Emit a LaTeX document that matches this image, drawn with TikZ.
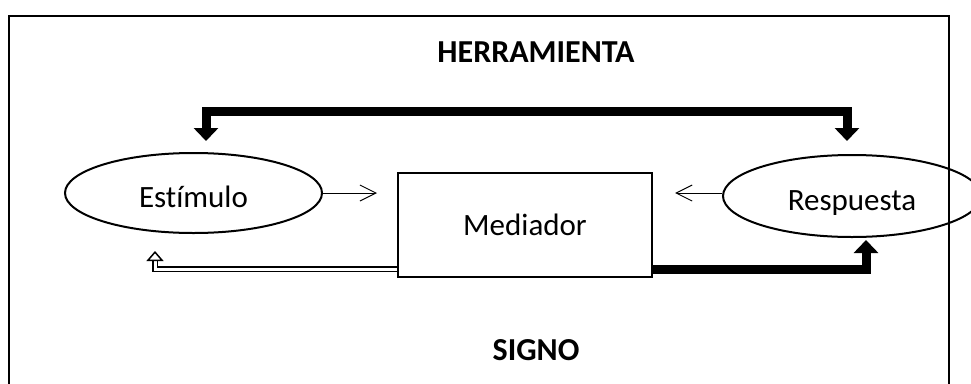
\documentclass[tikz,border=0pt]{standalone}
\usepackage{fontspec}
\setmainfont{Carlito}[Ligatures={NoCommon}]
\usetikzlibrary{arrows.meta,shapes.geometric}

\begin{document}
\begin{tikzpicture}[x=1pt,y=-1pt,
  bigarrow/.style={line width=9pt,-{Triangle[length=13pt,width=24pt]}},
  thinarrow/.style={line width=1pt,-{Straight Barb[length=16pt,width=16pt,line width=1pt]}},
  dblarrow/.style={double,double distance=3pt,line width=1.5pt,-{Triangle[open,length=10pt,width=17pt,line width=1.5pt]}},
  elip/.style={ellipse,draw,line width=2pt,inner sep=0pt,text height=29pt,text depth=0pt,font=\fontsize{31}{36}\selectfont}]
   \useasboundingbox (0,0) rectangle (971,383);
   \draw[line width=2pt] (9,390) -- (9,16) -- (949,16) -- (949,390);
   \node (titulo) at (536,62) [anchor=base,font=\fontsize{32}{36}\selectfont\bfseries] {HERRAMIENTA};
   \node (signo) at (536,360) [anchor=base,font=\fontsize{32}{36}\selectfont\bfseries] {SIGNO};
   \node (estimulo) at (193.5,193) [elip,minimum width=257pt,minimum height=80pt] {Estímulo};
   \node (respuesta) at (852,196) [elip,minimum width=258pt,minimum height=82pt] {Respuesta};
   \node (mediador) at (525,225) [draw,line width=2pt,minimum width=254pt,minimum height=104pt,font=\fontsize{31}{36}\selectfont] {Mediador};
   \coordinate (barra) at (520,111);
   \draw[bigarrow,{Triangle[length=13pt,width=24pt]}-{Triangle[length=13pt,width=24pt]},shorten <=11pt,shorten >=13pt]
      ([xshift=12.5pt]estimulo.north) |- (barra) -| ([xshift=-5pt]respuesta.north);
   \draw[bigarrow,shorten >=2pt] ([yshift=9pt]mediador.south east) -| ([xshift=14pt]respuesta.south);
   \draw[dblarrow,shorten >=17pt] ([yshift=9pt]mediador.south west) -| ([xshift=-38.5pt]estimulo.south);
   \draw[thinarrow,shorten >=20pt] (estimulo.east) -- (estimulo.east -| mediador.west);
   \draw[thinarrow,shorten >=22pt] ([yshift=3pt]respuesta.west) -- ([yshift=3pt]respuesta.west -| mediador.east);
\end{tikzpicture}
\end{document}
